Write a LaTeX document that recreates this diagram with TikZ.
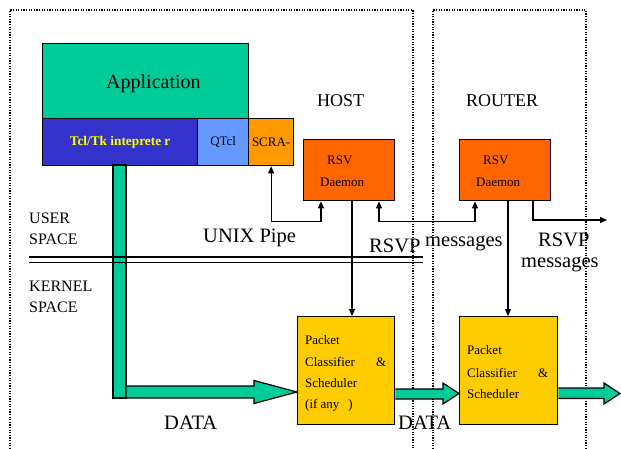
\documentclass[tikz,border=0pt]{standalone}
\usepackage{fontspec}
\setmainfont{Liberation Serif}
\usetikzlibrary{arrows.meta,calc}
\definecolor{appgreen}{HTML}{00CC99}
\definecolor{tclblue}{HTML}{3333CC}
\definecolor{qblue}{HTML}{6699FF}
\definecolor{scraorange}{HTML}{FF9900}
\definecolor{daemonorange}{HTML}{FF6600}
\definecolor{packetyellow}{HTML}{FFCC00}
\definecolor{tclyellow}{HTML}{FFFF00}
\begin{document}
\begin{tikzpicture}[x=1pt,y=-1pt,
  box/.style={draw=black, line width=1.3pt, inner sep=0pt, anchor=north west},
  lbl/.style={anchor=base west, inner sep=0pt},
  big/.style={font=\fontsize{20.5}{24}\selectfont},
  small/.style={font=\fontsize{13}{16}\selectfont},
  link/.style={line width=1.1pt},
  tip/.style={arrows={-Triangle[length=7pt,width=6pt]}},
  bitip/.style={arrows={Triangle[length=7pt,width=6pt]-Triangle[length=7pt,width=6pt]}},
  area/.style={line width=1.2pt, dash pattern=on 1.2pt off 1.4pt},
  gflow/.style={draw=black, fill=appgreen, line width=1.2pt, line join=miter}]
\useasboundingbox (0,0) rectangle (621,449);

% dotted areas
\draw[area] (10,449) -- (10,10) -- (413,10) -- (413,449);
\draw[area] (433,449) -- (433,10) -- (586,10) -- (586,449);

% application stack
\node[box, fill=appgreen, minimum width=206pt, minimum height=75pt] (app) at (42,43) {};
\node[lbl, font=\fontsize{20}{24}\selectfont] (apptext) at (106,89) {Application};
\node[box, fill=tclblue, minimum width=155pt, minimum height=47pt, text=tclyellow,
      font=\bfseries\fontsize{13.3}{16}\selectfont] (tcl) at (42,118) {Tcl/Tk inteprete r};
\node[box, fill=qblue, minimum width=51pt, minimum height=47pt, small] (qtcl) at (197,118) {QTcl};
\node[box, fill=scraorange, minimum width=45pt, minimum height=47pt, small] (scra) at (248,118) {SCRA-};

% green data path (vertical bar)
\draw[gflow] (113,165) rectangle (126,398);

% titles
\node[lbl, font=\fontsize{18}{22}\selectfont] (host) at (317,107) {HOST};
\node[lbl, font=\fontsize{18}{22}\selectfont] (router) at (466,107) {ROUTER};

% daemons
\node[box, fill=daemonorange, minimum width=91pt, minimum height=61pt] (hd) at (303,139) {};
\node[lbl, small] (hd1) at (327,165) {RSV};
\node[lbl, small] (hd2) at (320,187) {Daemon};
\node[box, fill=daemonorange, minimum width=91pt, minimum height=61pt] (rd) at (459,139) {};
\node[lbl, small] (rd1) at (483,165) {RSV};
\node[lbl, small] (rd2) at (476,187) {Daemon};

% packet classifiers
\node[box, fill=packetyellow, minimum width=97pt, minimum height=108pt] (pkh) at (297,316) {};
\node[lbl, small] (pkh1) at (305,344) {Packet};
\node[lbl, small] (pkh2) at (305,366) {\makebox[81pt][l]{Classifier\hfill\&}};
\node[lbl, small] (pkh3) at (305,387) {Scheduler};
\node[lbl, small] (pkh4) at (305,408) {(if any\hspace{9pt})};
\node[box, fill=packetyellow, minimum width=98pt, minimum height=108pt] (pkr) at (459,316) {};
\node[lbl, small] (pkr1) at (467,354) {Packet};
\node[lbl, small] (pkr2) at (467,377) {\makebox[81pt][l]{Classifier\hfill\&}};
\node[lbl, small] (pkr3) at (467,398) {Scheduler};

% user / kernel separation
\draw[line width=1.3pt] (29,257) -- (423,257);
\draw[line width=1.3pt] (29,262.5) -- (423,262.5);
\node[lbl, font=\fontsize{16}{20}\selectfont] (u1) at (29,223) {USER};
\node[lbl, font=\fontsize{16}{20}\selectfont] (u2) at (29,244) {SPACE};
\node[lbl, font=\fontsize{16}{20}\selectfont] (k1) at (29,291) {KERNEL};
\node[lbl, font=\fontsize{16}{20}\selectfont] (k2) at (29,312) {SPACE};

% RSVP connectors
\coordinate (hdL) at ($(hd.south west)+(18,0)$);
\coordinate (hdR) at ($(hd.south west)+(76,0)$);
\coordinate (hdM) at ($(hd.south west)+(49,0)$);
\coordinate (rdL) at ($(rd.south west)+(16,0)$);
\coordinate (rdR) at ($(rd.south west)+(74,0)$);
\coordinate (rdM) at ($(rd.south west)+(49,0)$);
\coordinate (outR) at (607,220);
\draw[link, bitip] (scra.south) |- ($(hdL)+(0,20)$) -- (hdL);
\draw[link, bitip] (hdR) -- ($(hdR)+(0,20)$) -| (rdL);
\draw[link, tip] (rdR) |- (outR);
\draw[link, tip] (hdM) -- (hdM |- pkh.north);
\draw[link, tip] (rdM) -- (rdM |- pkr.north);

\node[lbl, big] (pipe) at (203,242) {UNIX Pipe};
\node[lbl, big] (rsvp1) at (369,252) {RSVP};
\node[lbl, big] (msg1) at (425,247) {messages};
\node[lbl, big] (rsvp2) at (538,247) {RSVP};
\node[lbl, big] (msg2) at (521,267) {messages};

% data arrows
\draw[gflow] (126,386) -- (254,386) -- (254,380.5) -- (pkh.west |- 0,392) -- (254,403.5) -- (254,398) -- (126,398) -- cycle;
\draw[gflow] (pkh.east |- 0,389) -- (443,389) -- (443,383) -- (pkr.west |- 0,393.5) -- (443,404) -- (443,399) -- (pkh.east |- 0,399);
\coordinate (outD) at (620,393.5);
\draw[gflow] (pkr.east |- 0,388) -- (604,388) -- (604,383) -- (outD) -- (604,404) -- (604,398.5) -- (pkr.east |- 0,398.5);
\node[lbl, big] (data1) at (164,429) {DATA};
\node[lbl, big] (data2) at (398,429) {DATA};
\end{tikzpicture}
\end{document}
